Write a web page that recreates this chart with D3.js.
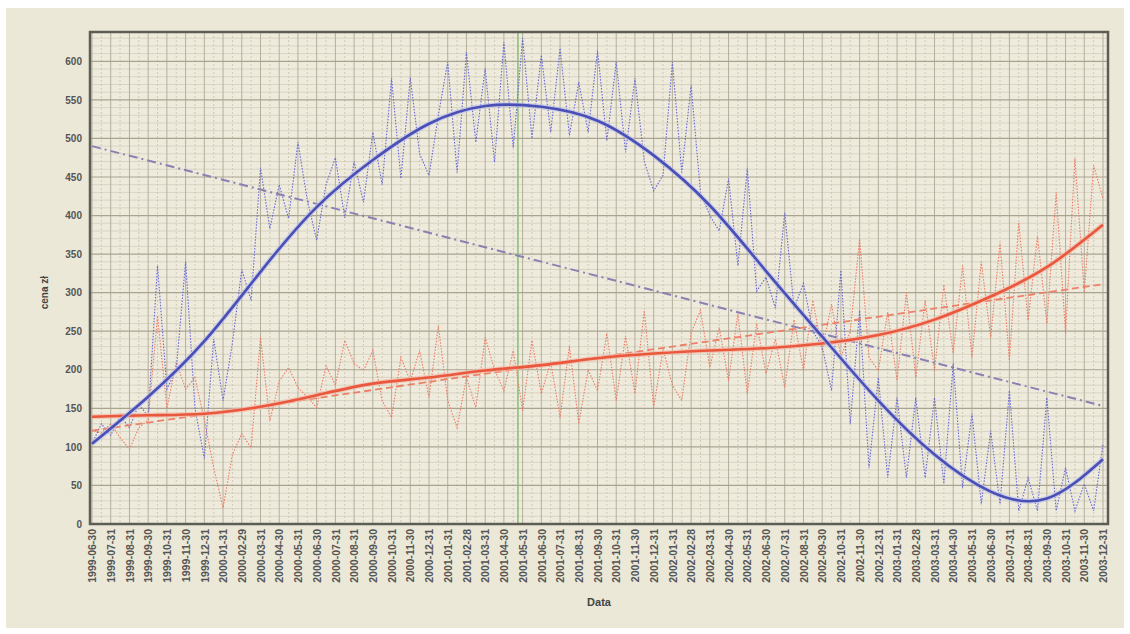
<!DOCTYPE html>
<html>
<head>
<meta charset="utf-8">
<script src="https://cdn.jsdelivr.net/npm/d3@7"></script>
<style>
  body { margin: 0; background: #fff; }
  text { font-family: "Liberation Sans", Arial, sans-serif; }
</style>
</head>
<body>
<svg id="chart" width="1130" height="634"></svg>
<script>
// month-end labels on the x axis
const labels = [
  '1999-06-30', '1999-07-31', '1999-08-31', '1999-09-30', '1999-10-31', '1999-11-30', '1999-12-31',
  '2000-01-31', '2000-02-29', '2000-03-31', '2000-04-30', '2000-05-31', '2000-06-30',
  '2000-07-31', '2000-08-31', '2000-09-30', '2000-10-31', '2000-11-30', '2000-12-31',
  '2001-01-31', '2001-02-28', '2001-03-31', '2001-04-30', '2001-05-31', '2001-06-30',
  '2001-07-31', '2001-08-31', '2001-09-30', '2001-10-31', '2001-11-30', '2001-12-31',
  '2002-01-31', '2002-02-28', '2002-03-31', '2002-04-30', '2002-05-31', '2002-06-30',
  '2002-07-31', '2002-08-31', '2002-09-30', '2002-10-31', '2002-11-30', '2002-12-31',
  '2003-01-31', '2003-02-28', '2003-03-31', '2003-04-30', '2003-05-31', '2003-06-30',
  '2003-07-31', '2003-08-31', '2003-09-30', '2003-10-31', '2003-11-30', '2003-12-31'
]

// two readings per month: at the month end and half way to the next one
const blueValues = [
  104, 130, 115, 140, 125, 155, 140, 335, 175, 200, 340, 150, 85, 240, 160, 235,
  330, 290, 462, 383, 440, 396, 495, 420, 368, 440, 475, 397, 470, 417, 508, 440,
  578, 448, 579, 480, 452, 530, 599, 456, 612, 495, 591, 469, 625, 488, 630, 500,
  608, 508, 617, 504, 573, 508, 614, 497, 599, 482, 578, 470, 432, 452, 599, 456,
  569, 430, 400, 380, 448, 335, 461, 302, 320, 280, 404, 280, 312, 250, 230, 173,
  329, 130, 277, 73, 190, 60, 164, 60, 164, 60, 164, 52, 208, 47, 143, 26,
  121, 26, 173, 17, 60, 17, 164, 17, 73, 17, 52, 17, 104
]
const redValues = [
  121, 118, 130, 112, 97, 125, 135, 270, 150, 210, 175, 190, 135, 73, 21, 90,
  117, 99, 242, 134, 185, 203, 177, 165, 151, 205, 180, 238, 208, 199, 225, 160,
  138, 216, 185, 225, 164, 257, 160, 125, 190, 151, 242, 200, 173, 225, 147, 238,
  169, 210, 138, 231, 130, 200, 173, 247, 160, 244, 169, 277, 151, 227, 180, 160,
  248, 277, 203, 255, 186, 273, 169, 260, 195, 240, 177, 265, 199, 290, 225, 285,
  216, 250, 370, 216, 199, 275, 186, 300, 190, 290, 199, 310, 221, 335, 216, 340,
  242, 365, 212, 391, 264, 374, 260, 430, 247, 474, 300, 465, 422
]

// polynomial trend curves, read at every third month
const fitMonths = [0, 3, 6, 9, 12, 15, 18, 21, 24, 27, 30, 33, 36, 39, 42, 45, 48, 51, 54]
const blueFit = [104, 165, 237, 327, 411, 472, 519, 542, 541, 523, 478, 413, 328, 243, 160, 90, 42, 33, 84]
const redFit = [139, 141, 143, 152, 167, 182, 190, 199, 206, 215, 221, 225, 228, 234, 245, 265, 295, 333, 388]

// linear trends: value at first and last month
const blueLinear = [490, 153]
const redLinear = [121, 311]

// green marker, in months from the first label
const markerMonth = 22.75

const yTicks = d3.range(0, 601, 50)

const svg = d3.select('#chart')
const plotLeft = 90, plotRight = 1108, plotTop = 32, plotBottom = 524

svg.append('rect')
  .attr('x', 6).attr('y', 8).attr('width', 1118).attr('height', 620)
  .attr('fill', '#ebe8d8')

svg.append('rect')
  .attr('x', plotLeft).attr('y', plotTop)
  .attr('width', plotRight - plotLeft).attr('height', plotBottom - plotTop)
  .attr('fill', '#eeebdd')

const x = d3.scaleLinear().domain([0, labels.length - 1]).range([92, 1103])
const y = d3.scaleLinear().domain([0, 638]).range([plotBottom, plotTop])

const grid = svg.append('g')

// minor horizontal grid
grid.selectAll('line.hmin')
  .data(d3.range(10, 631, 10).filter(v => v % 50 !== 0))
  .join('line')
  .attr('x1', plotLeft).attr('x2', plotRight)
  .attr('y1', d => y(d)).attr('y2', d => y(d))
  .attr('stroke', '#d8d4c2').attr('stroke-width', 1)

// half-month vertical grid
grid.selectAll('line.vmin')
  .data(d3.range(0.5, labels.length - 1, 1))
  .join('line')
  .attr('x1', d => x(d)).attr('x2', d => x(d))
  .attr('y1', plotTop).attr('y2', plotBottom)
  .attr('stroke', '#cfcab6').attr('stroke-dasharray', '2,2')

// month vertical grid
grid.selectAll('line.vmaj')
  .data(d3.range(labels.length))
  .join('line')
  .attr('x1', d => x(d)).attr('x2', d => x(d))
  .attr('y1', plotTop).attr('y2', plotBottom)
  .attr('stroke', '#b4af9b').attr('stroke-width', 1)

// major horizontal grid
grid.selectAll('line.hmaj')
  .data(yTicks.slice(1))
  .join('line')
  .attr('x1', plotLeft).attr('x2', plotRight)
  .attr('y1', d => y(d)).attr('y2', d => y(d))
  .attr('stroke', '#a9a490').attr('stroke-width', 1.2)

// green marker
svg.append('line')
  .attr('x1', x(markerMonth)).attr('x2', x(markerMonth))
  .attr('y1', plotTop).attr('y2', plotBottom)
  .attr('stroke', '#8cc07a').attr('stroke-width', 1.6)

const seriesLine = d3.line()
  .x((d, i) => x(i / 2))
  .y(d => y(d))

svg.append('path')
  .datum(redValues)
  .attr('d', seriesLine)
  .attr('fill', 'none')
  .attr('stroke', '#ee7a62')
  .attr('stroke-width', 1.1)
  .attr('stroke-dasharray', '1.5,1.5')

svg.append('path')
  .datum(blueValues)
  .attr('d', seriesLine)
  .attr('fill', 'none')
  .attr('stroke', '#6767d4')
  .attr('stroke-width', 1.1)
  .attr('stroke-dasharray', '1.5,1.5')

// linear trends
const trendLine = d3.line()
  .x((d, i) => x(i * (labels.length - 1)))
  .y(d => y(d))

svg.append('path')
  .datum(redLinear)
  .attr('d', trendLine)
  .attr('fill', 'none')
  .attr('stroke', '#ec8068')
  .attr('stroke-width', 1.8)
  .attr('stroke-dasharray', '7,4')

svg.append('path')
  .datum(blueLinear)
  .attr('d', trendLine)
  .attr('fill', 'none')
  .attr('stroke', '#8a80b2')
  .attr('stroke-width', 2)
  .attr('stroke-dasharray', '9,4,2,4')

// polynomial trends
const fitLine = d3.line()
  .x((d, i) => x(fitMonths[i]))
  .y(d => y(d))
  .curve(d3.curveNatural)

const drawFit = (values, halo, color) => {
  svg.append('path')
    .datum(values)
    .attr('d', fitLine)
    .attr('fill', 'none')
    .attr('stroke', halo)
    .attr('stroke-width', 5)
    .attr('opacity', 0.7)
  svg.append('path')
    .datum(values)
    .attr('d', fitLine)
    .attr('fill', 'none')
    .attr('stroke', color)
    .attr('stroke-width', 2.6)
}

drawFit(redFit, '#f4b8a6', '#e9573c')
drawFit(blueFit, '#bcc0ea', '#4a4fb5')

// frame
svg.append('rect')
  .attr('x', plotLeft).attr('y', plotTop)
  .attr('width', plotRight - plotLeft).attr('height', plotBottom - plotTop)
  .attr('fill', 'none')
  .attr('stroke', '#5e5d55')
  .attr('stroke-width', 2.5)

// axes
const yAxis = svg.append('g')
  .attr('transform', `translate(${plotLeft - 8},0)`)
  .call(d3.axisLeft(y).tickValues(yTicks).tickSize(0).tickPadding(0))
yAxis.select('.domain').remove()
yAxis.selectAll('text')
  .attr('fill', '#555')
  .attr('font-size', 10)
  .attr('font-weight', 'bold')

const xAxis = svg.append('g')
  .attr('transform', `translate(0,${plotBottom + 5})`)
  .call(d3.axisBottom(x)
    .tickValues(d3.range(labels.length))
    .tickFormat(i => labels[i])
    .tickSize(0))
xAxis.select('.domain').remove()
xAxis.selectAll('text')
  .attr('transform', 'rotate(-90)')
  .attr('text-anchor', 'end')
  .attr('dx', 0)
  .attr('dy', '0.35em')
  .attr('x', 0).attr('y', 0)
  .attr('fill', '#555')
  .attr('font-size', 10.5)
  .attr('font-weight', 'bold')

svg.append('text')
  .attr('x', (plotLeft + plotRight) / 2).attr('y', 606)
  .attr('text-anchor', 'middle')
  .attr('font-size', 11).attr('font-weight', 'bold')
  .attr('fill', '#444')
  .text('Data')

svg.append('text')
  .attr('transform', `translate(48,${y(300)}) rotate(-90)`)
  .attr('text-anchor', 'middle')
  .attr('font-size', 10).attr('font-weight', 'bold')
  .attr('fill', '#444')
  .text('cena zł')
</script>
</body>
</html>
